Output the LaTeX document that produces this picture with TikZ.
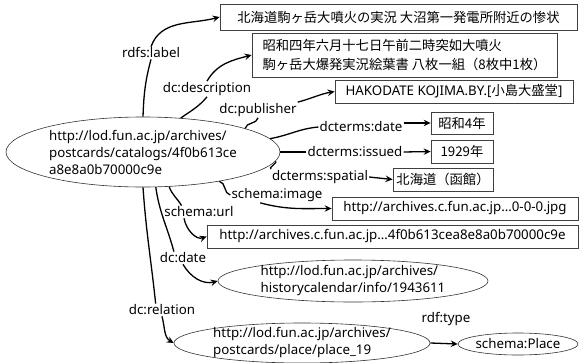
\documentclass[tikz,border=0pt]{standalone}
\usepackage{fontspec}
\setmainfont{Noto Sans}
\newfontfamily\cjk{Noto Sans CJK JP}
\usetikzlibrary{arrows.meta,shapes.geometric}

\begin{document}
\begin{tikzpicture}[x=1pt,y=1pt,
  font=\fontsize{13.3}{17}\selectfont,
  box/.style={draw=black!75, line width=0.8pt, inner sep=0pt, minimum height=23},
  res/.style={ellipse, draw=black!80, line width=0.6pt, inner sep=-30pt, align=left},
  lab/.style={inner sep=1pt},
  rel/.style={line width=1.3pt, black},
  arr/.style={rel, -{Stealth[length=7pt,width=6.5pt,inset=2.5pt]}}
]
\useasboundingbox (0,0) rectangle (579,-362);

% resources
\node[res, minimum width=274, minimum height=70] (m) at (143,-152)
  {http://lod.fun.ac.jp/archives/\\postcards/catalogs/4f0b613ce\\a8e8a0b70000c9e};
\node[res, minimum width=270, minimum height=42] (e2) at (353,-281)
  {http://lod.fun.ac.jp/archives/\\historycalendar/info/1943611};
\node[res, minimum width=256, minimum height=40] (e3) at (302,-343)
  {http://lod.fun.ac.jp/archives/\\postcards/place/place\_19};
\node[res, minimum width=120, minimum height=22] (pl) at (518,-344) {schema:Place};

% literals
\node[box, minimum width=357, minimum height=26, font=\fontsize{13.3}{17}\cjk] (b1) at (398.5,-17)
  {北海道駒ヶ岳大噴火の実況 大沼第一発電所附近の惨状};
\node[box, minimum width=305, minimum height=44, align=left, font=\fontsize{13.3}{18.5}\cjk] (b2) at (404.5,-55)
  {昭和四年六月十七日午前二時突如大噴火\\駒ヶ岳大爆発実況絵葉書 八枚一組（8枚中1枚）};
\node[box, minimum width=238] (b3) at (454,-91.5) {HAKODATE KOJIMA.BY.[{\cjk 小島大盛堂}]};
\node[box, minimum width=62, minimum height=22, font=\fontsize{13.3}{17}\cjk] (b4) at (462,-123) {昭和4年};
\node[box, minimum width=62, font=\fontsize{13.3}{17}\cjk] (b5) at (462,-151.5) {1929年};
\node[box, minimum width=100, font=\fontsize{13.3}{17}\cjk] (b6) at (443,-179.5) {北海道（函館）};
\node[box, minimum width=246] (b7) at (455,-208.5) {http://archives.c.fun.ac.jp…0-0-0.jpg};
\node[box, minimum width=371] (b8) at (392.5,-236.5) {http://archives.c.fun.ac.jp…4f0b613cea8e8a0b70000c9e};

% property labels
\node[lab] (l1) at (151,-53) {rdfs:label};
\node[lab] (l2) at (207,-89) {dc:description};
\node[lab] (l3) at (258,-110) {dc:publisher};
\node[lab] (l4) at (361,-127) {dcterms:date};
\node[lab] (l5) at (355,-152) {dcterms:issued};
\node[lab] (l6) at (320,-177) {dcterms:spatial};
\node[lab] (l7) at (277,-195) {schema:image};
\node[lab] (l8) at (199,-212) {schema:url};
\node[lab] (l9) at (183,-258) {dc:date};
\node[lab] (l10) at (162,-310) {dc:relation};
\node[lab] (l11) at (446,-319) {rdf:type};

% edges
\draw[rel] (m.90) to[out=88,in=-105] (l1.south);
\draw[arr] (l1.north) to[out=70,in=195] (b1.west);
\draw[rel] (m.42) to[out=35,in=-130] (l2.south);
\draw[arr] (l2.north) to[out=60,in=195] (b2.west);
\draw[rel] (m.13) to[out=80,in=-100] (l3.south);
\draw[arr] (l3.north east) to[out=15,in=190] (b3.west);
\draw[rel] (m.6) to[out=10,in=185] (l4.west);
\draw[arr] (l4.east |- b4.west) -- (b4.west);
\draw[rel] (m.0) -- (l5.west);
\draw[arr] (l5.east) -- (b5.west);
\draw[rel] (m.-4) to[out=-5,in=170] (l6.north west);
\draw[arr] (l6.east) -- (b6.west);
\draw[rel] (m.-21) to[out=-10,in=170] (l7.west);
\draw[arr] (l7.-155) to[out=-15,in=180] (b7.west);
\draw[rel] (m.-53) to[out=-70,in=120] (l8.160);
\draw[arr] (l8.-157) to[out=-80,in=200] (b8.west);
\draw[rel] (m.-70) to[out=-82,in=105] (l9.145);
\draw[arr] (l9.south) to[out=-60,in=195] (e2.west);
\draw[rel] (m.-90) to[out=-86,in=96] (l10.135);
\draw[arr] (l10.south) to[out=-75,in=150] (e3.west);
\draw[arr] (e3.east) -- (pl.west);
\end{tikzpicture}
\end{document}
